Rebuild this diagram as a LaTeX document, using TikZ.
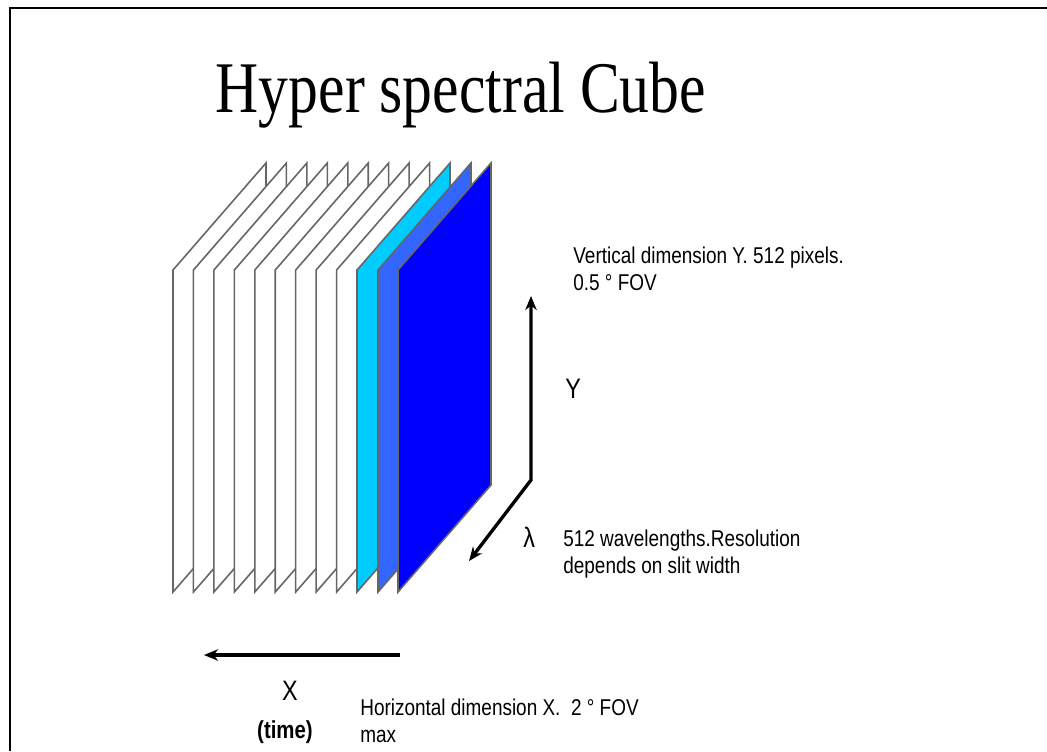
\documentclass[tikz,border=0pt]{standalone}
\usepackage{fontspec}
\setmainfont{Liberation Sans}[FakeStretch=0.83]
\newfontfamily\titlefont{Liberation Serif}[FakeStretch=0.82]
\usepackage{xcolor}
\usetikzlibrary{arrows.meta}

\definecolor{bandcyan}{HTML}{00CCFF}
\definecolor{bandmid}{HTML}{3366FF}
\definecolor{bandblue}{HTML}{0000FF}

\begin{document}
\begin{tikzpicture}[
  x=0.02cm, y=-0.02cm,
  panel/.style={draw=black!60, line width=0.9pt, fill=white},
  axis/.style={line width=1.9pt},
  note/.style={font=\fontsize{13}{15}\selectfont, align=left, anchor=north west, inner sep=0pt},
  axislabel/.style={font=\fontsize{16}{19}\selectfont, inner sep=0pt},
  >={Stealth[length=8pt, width=6.5pt]}
]
  \useasboundingbox (0,0) rectangle (1047,751);

  % slide frame
  \draw[line width=1.6pt] (10,751) -- (10,8) -- (1047,8);

  \node[font=\titlefont\fontsize{41.4}{48}\selectfont, anchor=base, inner sep=0pt] (title) at (461,112) {Hyper spectral Cube};

  % spectral slices
  \foreach \i in {0,...,8}
    \draw[panel] ({173+20.45*\i},592) -- ++(0,-322) -- ++(93,-107) -- ++(0,322) -- cycle;
  \draw[panel, fill=bandcyan] (357,592) -- ++(0,-322) -- ++(93,-107) -- ++(0,322) -- cycle;
  \draw[panel, fill=bandmid] (378,592) -- ++(0,-322) -- ++(93,-107) -- ++(0,322) -- cycle;
  \draw[panel, fill=bandblue] (398,592) -- ++(0,-322) -- ++(93,-107) -- ++(0,322) -- cycle;

  % axes
  \coordinate (ytip) at (531,296);
  \coordinate (corner) at (531,480);
  \coordinate (ltip) at (469,561);
  \coordinate (xstart) at (400,655);
  \coordinate (xtip) at (204,655);
  \draw[axis, <->] (ytip) -- (corner) -- (ltip);
  \draw[axis, ->] (xstart) -- (xtip);

  \node[axislabel, anchor=base west] (ylab) at (565,398) {Y};
  \node[axislabel, anchor=base west] (lam) at (523,547) {λ};
  \node[axislabel, anchor=base] (xlab) at (290,700) {X};
  \node[axislabel, anchor=base, font=\fontsize{14}{17}\selectfont\bfseries] (time) at (285,738) {(time)};

  \node[note] (vert) at (573,247) {Vertical dimension Y. 512 pixels.\\0.5 ° FOV};
  \node[note] (wave) at (563,530) {512 wavelengths.Resolution\\depends on slit width};
  \node[note] (horiz) at (360,699) {Horizontal dimension X.\ \ 2 ° FOV\\max};
\end{tikzpicture}
\end{document}
